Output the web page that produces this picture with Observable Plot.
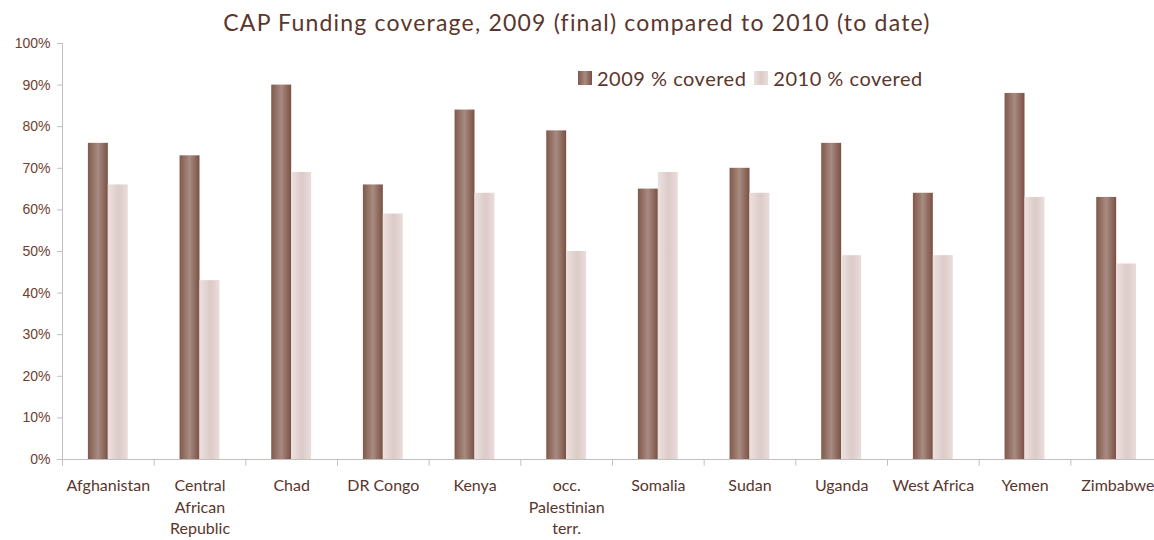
<!DOCTYPE html>
<html>
<head>
<meta charset="utf-8">
<script src="https://cdn.jsdelivr.net/npm/d3@7"></script>
<script src="https://cdn.jsdelivr.net/npm/@observablehq/plot@0.6"></script>
<style>
  html, body { margin: 0; padding: 0; background: #fff; }
  #wrap { position: relative; width: 1154px; height: 540px; overflow: hidden; }
  #title { height: 36px; line-height: 44px; text-align: center; font-family: Lato, "Open Sans", sans-serif; font-size: 23px; color: #5a362c; letter-spacing: 1.2px; white-space: nowrap; }
  #legend { position: absolute; left: 578px; top: 66px; font-family: Lato, sans-serif; font-size: 20px; letter-spacing: 0.5px; color: #5a362c; display: flex; align-items: center; white-space: nowrap; }
  #legend .sw { display: inline-block; width: 14px; height: 14px; margin-right: 5px; }
  #legend .item { display: flex; align-items: center; margin-right: 8px; }
</style>
</head>
<body>
<div id="wrap">
  <div id="title">CAP Funding coverage, 2009 (final) compared to 2010 (to date)</div>
  <div id="chart"></div>
  <div id="legend"></div>
</div>
<script>
const countries = ["Afghanistan", "Central African Republic", "Chad", "DR Congo", "Kenya", "occ. Palestinian terr.", "Somalia", "Sudan", "Uganda", "West Africa", "Yemen", "Zimbabwe"];
const countryLabels = ["Afghanistan", "Central\nAfrican\nRepublic", "Chad", "DR Congo", "Kenya", "occ.\nPalestinian\nterr.", "Somalia", "Sudan", "Uganda", "West Africa", "Yemen", "Zimbabwe"];
const covered2009 = [0.76, 0.73, 0.90, 0.66, 0.84, 0.79, 0.65, 0.70, 0.76, 0.64, 0.88, 0.63];
const covered2010 = [0.66, 0.43, 0.69, 0.59, 0.64, 0.50, 0.69, 0.64, 0.49, 0.49, 0.63, 0.47];
const seriesNames = ["2009 % covered", "2010 % covered"];
const yTicks = [0, 0.1, 0.2, 0.3, 0.4, 0.5, 0.6, 0.7, 0.8, 0.9, 1.0];

const rows = countries.map((c, i) => ({country: c, label: countryLabels[i], v2009: covered2009[i], v2010: covered2010[i]}));
const lastRow = rows.slice(-1);
const otherRows = rows.slice(0, -1);

const W = 1154, H = 504, mL = 62, mR = -8, mT = 7, mB = 81;
const pIn = 0.565;
const plotW = W - mL - mR;
const step = plotW / countries.length;
const bw = step * (1 - pIn);

const brown = "#5a362c";
const gridGray = "#c0c0c0";
const labelFont = "Lato, sans-serif";

const chart = Plot.plot({
  width: W,
  height: H,
  marginLeft: mL,
  marginRight: mR,
  marginTop: mT,
  marginBottom: mB,
  x: {domain: countries, paddingInner: pIn, paddingOuter: pIn / 2, round: false, axis: null},
  y: {domain: [0, 1], axis: null},
  marks: [
    Plot.barY(rows, {x: "country", y: "v2009", fill: "url(#g2009)", insetRight: bw / 2}),
    Plot.barY(rows, {x: "country", y: "v2010", fill: "url(#g2010)", insetLeft: bw / 2}),
    Plot.ruleY([0], {stroke: gridGray, strokeWidth: 1}),
    Plot.ruleX([countries[0]], {x: d => d, dx: -step / 2, y1: 0, y2: 1, stroke: gridGray}),
    Plot.ruleX(countries, {x: d => d, dx: -step / 2, y1: 0, y2: -0.016, stroke: gridGray}),
    Plot.tickY(yTicks, {y: d => d, stroke: gridGray, insetLeft: -5, insetRight: plotW}),
    Plot.text(yTicks, {y: d => d, text: d => d3.format(".0%")(d), frameAnchor: "left", textAnchor: "end", dx: -12, fill: "#6e3f30", fontSize: 14, fontFamily: "'Liberation Sans', Arial, sans-serif"}),
    Plot.text(otherRows, {x: "country", y: () => 0, text: "label", dy: 16, lineAnchor: "top", lineHeight: 1.36, fill: brown, fontSize: 16, fontFamily: labelFont}),
    Plot.text(lastRow, {x: "country", y: () => 0, text: "label", dy: 16, dx: step / 2 - 8, textAnchor: "end", lineAnchor: "top", lineHeight: 1.36, fill: brown, fontSize: 16, fontFamily: labelFont})
  ]
});

// gradients for bars
const ns = "http://www.w3.org/2000/svg";
const defs = document.createElementNS(ns, "defs");
defs.innerHTML = `
  <linearGradient id="g2009" x1="0" x2="1" y1="0" y2="0">
    <stop offset="0" stop-color="#80594b"/>
    <stop offset="0.5" stop-color="#a88b81"/>
    <stop offset="1" stop-color="#7a5144"/>
  </linearGradient>
  <linearGradient id="g2010" x1="0" x2="1" y1="0" y2="0">
    <stop offset="0" stop-color="#ece1df"/>
    <stop offset="0.55" stop-color="#dccbc8"/>
    <stop offset="1" stop-color="#e9dddb"/>
  </linearGradient>`;
chart.insertBefore(defs, chart.firstChild);
document.getElementById("chart").appendChild(chart);

// legend
const legend = document.getElementById("legend");
const swatchFills = ["linear-gradient(to right, #80594b, #a88b81, #7a5144)", "linear-gradient(to right, #ece1df, #dccbc8, #e9dddb)"];
seriesNames.forEach((name, i) => {
  const item = document.createElement("span");
  item.className = "item";
  const sw = document.createElement("span");
  sw.className = "sw";
  sw.style.background = swatchFills[i];
  item.appendChild(sw);
  item.appendChild(document.createTextNode(name));
  legend.appendChild(item);
});
</script>
</body>
</html>
